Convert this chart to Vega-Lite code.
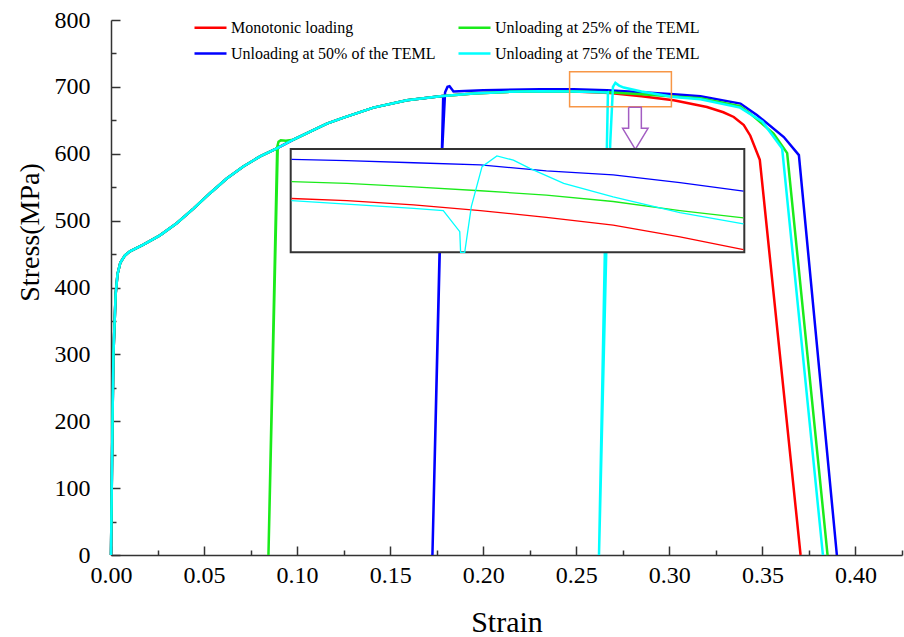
{
  "$schema": "https://vega.github.io/schema/vega-lite/v6.json",
  "width": 791,
  "height": 535,
  "autosize": {"type": "none"},
  "padding": {"left": 111, "top": 20, "right": 2, "bottom": 82},
  "background": "white",
  "config": {
    "view": {"stroke": null},
    "font": "Liberation Serif",
    "axis": {
      "labelFont": "Liberation Serif",
      "labelFontSize": 24,
      "labelColor": "black",
      "titleFont": "Liberation Serif",
      "titleFontWeight": "normal",
      "titleColor": "black",
      "domainColor": "#333333",
      "domainWidth": 1.5,
      "tickColor": "#333333",
      "tickWidth": 1.5,
      "ticks": true,
      "grid": false,
      "labelOverlap": false,
      "labelBound": false,
      "labelFlush": false
    }
  },
  "datasets": {
    "curves": [
      {"series": "Monotonic loading", "i": 0, "x": 0, "y": 0},
      {"series": "Monotonic loading", "i": 1, "x": 0.0004, "y": 100},
      {"series": "Monotonic loading", "i": 2, "x": 0.0008, "y": 200},
      {"series": "Monotonic loading", "i": 3, "x": 0.0013, "y": 300},
      {"series": "Monotonic loading", "i": 4, "x": 0.0025, "y": 390},
      {"series": "Monotonic loading", "i": 5, "x": 0.0035, "y": 420},
      {"series": "Monotonic loading", "i": 6, "x": 0.005, "y": 437},
      {"series": "Monotonic loading", "i": 7, "x": 0.0075, "y": 448},
      {"series": "Monotonic loading", "i": 8, "x": 0.0102, "y": 454},
      {"series": "Monotonic loading", "i": 9, "x": 0.0174, "y": 464},
      {"series": "Monotonic loading", "i": 10, "x": 0.0263, "y": 478},
      {"series": "Monotonic loading", "i": 11, "x": 0.0353, "y": 496},
      {"series": "Monotonic loading", "i": 12, "x": 0.0443, "y": 518},
      {"series": "Monotonic loading", "i": 13, "x": 0.0532, "y": 541},
      {"series": "Monotonic loading", "i": 14, "x": 0.0622, "y": 563},
      {"series": "Monotonic loading", "i": 15, "x": 0.0711, "y": 581},
      {"series": "Monotonic loading", "i": 16, "x": 0.0801, "y": 596},
      {"series": "Monotonic loading", "i": 17, "x": 0.0891, "y": 608},
      {"series": "Monotonic loading", "i": 18, "x": 0.098, "y": 621},
      {"series": "Monotonic loading", "i": 19, "x": 0.107, "y": 633},
      {"series": "Monotonic loading", "i": 20, "x": 0.116, "y": 645},
      {"series": "Monotonic loading", "i": 21, "x": 0.125, "y": 654},
      {"series": "Monotonic loading", "i": 22, "x": 0.141, "y": 669},
      {"series": "Monotonic loading", "i": 23, "x": 0.159, "y": 680},
      {"series": "Monotonic loading", "i": 24, "x": 0.1769, "y": 686},
      {"series": "Monotonic loading", "i": 25, "x": 0.1948, "y": 690},
      {"series": "Monotonic loading", "i": 26, "x": 0.2127, "y": 692.5},
      {"series": "Monotonic loading", "i": 27, "x": 0.2306, "y": 693.5},
      {"series": "Monotonic loading", "i": 28, "x": 0.2485, "y": 693},
      {"series": "Monotonic loading", "i": 29, "x": 0.268, "y": 691},
      {"series": "Monotonic loading", "i": 30, "x": 0.285, "y": 686},
      {"series": "Monotonic loading", "i": 31, "x": 0.3023, "y": 680},
      {"series": "Monotonic loading", "i": 32, "x": 0.3202, "y": 670},
      {"series": "Monotonic loading", "i": 33, "x": 0.329, "y": 662},
      {"series": "Monotonic loading", "i": 34, "x": 0.3346, "y": 655},
      {"series": "Monotonic loading", "i": 35, "x": 0.34, "y": 643},
      {"series": "Monotonic loading", "i": 36, "x": 0.3435, "y": 627},
      {"series": "Monotonic loading", "i": 37, "x": 0.3486, "y": 591},
      {"series": "Monotonic loading", "i": 38, "x": 0.3705, "y": 0},

      {"series": "Unloading at 25% of the TEML", "i": 0, "x": 0, "y": 0},
      {"series": "Unloading at 25% of the TEML", "i": 1, "x": 0.0004, "y": 100},
      {"series": "Unloading at 25% of the TEML", "i": 2, "x": 0.0008, "y": 200},
      {"series": "Unloading at 25% of the TEML", "i": 3, "x": 0.0013, "y": 300},
      {"series": "Unloading at 25% of the TEML", "i": 4, "x": 0.0025, "y": 390},
      {"series": "Unloading at 25% of the TEML", "i": 5, "x": 0.0035, "y": 420},
      {"series": "Unloading at 25% of the TEML", "i": 6, "x": 0.005, "y": 437},
      {"series": "Unloading at 25% of the TEML", "i": 7, "x": 0.0075, "y": 448},
      {"series": "Unloading at 25% of the TEML", "i": 8, "x": 0.0102, "y": 454},
      {"series": "Unloading at 25% of the TEML", "i": 9, "x": 0.0174, "y": 464},
      {"series": "Unloading at 25% of the TEML", "i": 10, "x": 0.0263, "y": 478},
      {"series": "Unloading at 25% of the TEML", "i": 11, "x": 0.0353, "y": 496},
      {"series": "Unloading at 25% of the TEML", "i": 12, "x": 0.0443, "y": 518},
      {"series": "Unloading at 25% of the TEML", "i": 13, "x": 0.0532, "y": 541},
      {"series": "Unloading at 25% of the TEML", "i": 14, "x": 0.0622, "y": 563},
      {"series": "Unloading at 25% of the TEML", "i": 15, "x": 0.0711, "y": 581},
      {"series": "Unloading at 25% of the TEML", "i": 16, "x": 0.0801, "y": 596},
      {"series": "Unloading at 25% of the TEML", "i": 17, "x": 0.0891, "y": 608},
      {"series": "Unloading at 25% of the TEML", "i": 18, "x": 0.0896, "y": 610},
      {"series": "Unloading at 25% of the TEML", "i": 19, "x": 0.0846, "y": 0},
      {"series": "Unloading at 25% of the TEML", "i": 20, "x": 0.0893, "y": 610},
      {"series": "Unloading at 25% of the TEML", "i": 21, "x": 0.09, "y": 618},
      {"series": "Unloading at 25% of the TEML", "i": 22, "x": 0.0912, "y": 620},
      {"series": "Unloading at 25% of the TEML", "i": 23, "x": 0.094, "y": 619.5},
      {"series": "Unloading at 25% of the TEML", "i": 24, "x": 0.098, "y": 621},
      {"series": "Unloading at 25% of the TEML", "i": 25, "x": 0.107, "y": 633},
      {"series": "Unloading at 25% of the TEML", "i": 26, "x": 0.116, "y": 645},
      {"series": "Unloading at 25% of the TEML", "i": 27, "x": 0.125, "y": 654},
      {"series": "Unloading at 25% of the TEML", "i": 28, "x": 0.141, "y": 669},
      {"series": "Unloading at 25% of the TEML", "i": 29, "x": 0.159, "y": 680},
      {"series": "Unloading at 25% of the TEML", "i": 30, "x": 0.1769, "y": 686},
      {"series": "Unloading at 25% of the TEML", "i": 31, "x": 0.1948, "y": 690},
      {"series": "Unloading at 25% of the TEML", "i": 32, "x": 0.2127, "y": 692.5},
      {"series": "Unloading at 25% of the TEML", "i": 33, "x": 0.2306, "y": 693.5},
      {"series": "Unloading at 25% of the TEML", "i": 34, "x": 0.2485, "y": 693},
      {"series": "Unloading at 25% of the TEML", "i": 35, "x": 0.2665, "y": 692},
      {"series": "Unloading at 25% of the TEML", "i": 36, "x": 0.285, "y": 689},
      {"series": "Unloading at 25% of the TEML", "i": 37, "x": 0.3023, "y": 685.5},
      {"series": "Unloading at 25% of the TEML", "i": 38, "x": 0.3167, "y": 683},
      {"series": "Unloading at 25% of the TEML", "i": 39, "x": 0.338, "y": 671},
      {"series": "Unloading at 25% of the TEML", "i": 40, "x": 0.3435, "y": 660},
      {"series": "Unloading at 25% of the TEML", "i": 41, "x": 0.356, "y": 630},
      {"series": "Unloading at 25% of the TEML", "i": 42, "x": 0.3633, "y": 601},
      {"series": "Unloading at 25% of the TEML", "i": 43, "x": 0.385, "y": 0},

      {"series": "Unloading at 50% of the TEML", "i": 0, "x": 0, "y": 0},
      {"series": "Unloading at 50% of the TEML", "i": 1, "x": 0.0004, "y": 100},
      {"series": "Unloading at 50% of the TEML", "i": 2, "x": 0.0008, "y": 200},
      {"series": "Unloading at 50% of the TEML", "i": 3, "x": 0.0013, "y": 300},
      {"series": "Unloading at 50% of the TEML", "i": 4, "x": 0.0025, "y": 390},
      {"series": "Unloading at 50% of the TEML", "i": 5, "x": 0.0035, "y": 420},
      {"series": "Unloading at 50% of the TEML", "i": 6, "x": 0.005, "y": 437},
      {"series": "Unloading at 50% of the TEML", "i": 7, "x": 0.0075, "y": 448},
      {"series": "Unloading at 50% of the TEML", "i": 8, "x": 0.0102, "y": 454},
      {"series": "Unloading at 50% of the TEML", "i": 9, "x": 0.0174, "y": 464},
      {"series": "Unloading at 50% of the TEML", "i": 10, "x": 0.0263, "y": 478},
      {"series": "Unloading at 50% of the TEML", "i": 11, "x": 0.0353, "y": 496},
      {"series": "Unloading at 50% of the TEML", "i": 12, "x": 0.0443, "y": 518},
      {"series": "Unloading at 50% of the TEML", "i": 13, "x": 0.0532, "y": 541},
      {"series": "Unloading at 50% of the TEML", "i": 14, "x": 0.0622, "y": 563},
      {"series": "Unloading at 50% of the TEML", "i": 15, "x": 0.0711, "y": 581},
      {"series": "Unloading at 50% of the TEML", "i": 16, "x": 0.0801, "y": 596},
      {"series": "Unloading at 50% of the TEML", "i": 17, "x": 0.0891, "y": 608},
      {"series": "Unloading at 50% of the TEML", "i": 18, "x": 0.098, "y": 621},
      {"series": "Unloading at 50% of the TEML", "i": 19, "x": 0.107, "y": 633},
      {"series": "Unloading at 50% of the TEML", "i": 20, "x": 0.116, "y": 645},
      {"series": "Unloading at 50% of the TEML", "i": 21, "x": 0.125, "y": 654},
      {"series": "Unloading at 50% of the TEML", "i": 22, "x": 0.141, "y": 669},
      {"series": "Unloading at 50% of the TEML", "i": 23, "x": 0.159, "y": 680},
      {"series": "Unloading at 50% of the TEML", "i": 24, "x": 0.1769, "y": 686},
      {"series": "Unloading at 50% of the TEML", "i": 25, "x": 0.1785, "y": 686.5},
      {"series": "Unloading at 50% of the TEML", "i": 26, "x": 0.1727, "y": 0},
      {"series": "Unloading at 50% of the TEML", "i": 27, "x": 0.178, "y": 608},
      {"series": "Unloading at 50% of the TEML", "i": 28, "x": 0.1795, "y": 692},
      {"series": "Unloading at 50% of the TEML", "i": 29, "x": 0.1808, "y": 700},
      {"series": "Unloading at 50% of the TEML", "i": 30, "x": 0.1819, "y": 701},
      {"series": "Unloading at 50% of the TEML", "i": 31, "x": 0.183, "y": 697},
      {"series": "Unloading at 50% of the TEML", "i": 32, "x": 0.184, "y": 693},
      {"series": "Unloading at 50% of the TEML", "i": 33, "x": 0.19, "y": 694},
      {"series": "Unloading at 50% of the TEML", "i": 34, "x": 0.2, "y": 695},
      {"series": "Unloading at 50% of the TEML", "i": 35, "x": 0.2306, "y": 696.3},
      {"series": "Unloading at 50% of the TEML", "i": 36, "x": 0.2485, "y": 696.5},
      {"series": "Unloading at 50% of the TEML", "i": 37, "x": 0.2665, "y": 695},
      {"series": "Unloading at 50% of the TEML", "i": 38, "x": 0.285, "y": 692},
      {"series": "Unloading at 50% of the TEML", "i": 39, "x": 0.3023, "y": 689},
      {"series": "Unloading at 50% of the TEML", "i": 40, "x": 0.3167, "y": 686},
      {"series": "Unloading at 50% of the TEML", "i": 41, "x": 0.3382, "y": 675},
      {"series": "Unloading at 50% of the TEML", "i": 42, "x": 0.347, "y": 658},
      {"series": "Unloading at 50% of the TEML", "i": 43, "x": 0.3615, "y": 625},
      {"series": "Unloading at 50% of the TEML", "i": 44, "x": 0.3696, "y": 598},
      {"series": "Unloading at 50% of the TEML", "i": 45, "x": 0.39, "y": 0},

      {"series": "Unloading at 75% of the TEML", "i": 0, "x": 0, "y": 0},
      {"series": "Unloading at 75% of the TEML", "i": 1, "x": 0.0004, "y": 100},
      {"series": "Unloading at 75% of the TEML", "i": 2, "x": 0.0008, "y": 200},
      {"series": "Unloading at 75% of the TEML", "i": 3, "x": 0.0013, "y": 300},
      {"series": "Unloading at 75% of the TEML", "i": 4, "x": 0.0025, "y": 390},
      {"series": "Unloading at 75% of the TEML", "i": 5, "x": 0.0035, "y": 420},
      {"series": "Unloading at 75% of the TEML", "i": 6, "x": 0.005, "y": 437},
      {"series": "Unloading at 75% of the TEML", "i": 7, "x": 0.0075, "y": 448},
      {"series": "Unloading at 75% of the TEML", "i": 8, "x": 0.0102, "y": 454},
      {"series": "Unloading at 75% of the TEML", "i": 9, "x": 0.0174, "y": 464},
      {"series": "Unloading at 75% of the TEML", "i": 10, "x": 0.0263, "y": 478},
      {"series": "Unloading at 75% of the TEML", "i": 11, "x": 0.0353, "y": 496},
      {"series": "Unloading at 75% of the TEML", "i": 12, "x": 0.0443, "y": 518},
      {"series": "Unloading at 75% of the TEML", "i": 13, "x": 0.0532, "y": 541},
      {"series": "Unloading at 75% of the TEML", "i": 14, "x": 0.0622, "y": 563},
      {"series": "Unloading at 75% of the TEML", "i": 15, "x": 0.0711, "y": 581},
      {"series": "Unloading at 75% of the TEML", "i": 16, "x": 0.0801, "y": 596},
      {"series": "Unloading at 75% of the TEML", "i": 17, "x": 0.0891, "y": 608},
      {"series": "Unloading at 75% of the TEML", "i": 18, "x": 0.098, "y": 621},
      {"series": "Unloading at 75% of the TEML", "i": 19, "x": 0.107, "y": 633},
      {"series": "Unloading at 75% of the TEML", "i": 20, "x": 0.116, "y": 645},
      {"series": "Unloading at 75% of the TEML", "i": 21, "x": 0.125, "y": 654},
      {"series": "Unloading at 75% of the TEML", "i": 22, "x": 0.141, "y": 669},
      {"series": "Unloading at 75% of the TEML", "i": 23, "x": 0.159, "y": 680},
      {"series": "Unloading at 75% of the TEML", "i": 24, "x": 0.1769, "y": 686},
      {"series": "Unloading at 75% of the TEML", "i": 25, "x": 0.1948, "y": 690},
      {"series": "Unloading at 75% of the TEML", "i": 26, "x": 0.2127, "y": 692.5},
      {"series": "Unloading at 75% of the TEML", "i": 27, "x": 0.2306, "y": 693.5},
      {"series": "Unloading at 75% of the TEML", "i": 28, "x": 0.2485, "y": 693},
      {"series": "Unloading at 75% of the TEML", "i": 29, "x": 0.2665, "y": 691.5},
      {"series": "Unloading at 75% of the TEML", "i": 30, "x": 0.267, "y": 692},
      {"series": "Unloading at 75% of the TEML", "i": 31, "x": 0.2622, "y": 0},
      {"series": "Unloading at 75% of the TEML", "i": 32, "x": 0.2661, "y": 453},
      {"series": "Unloading at 75% of the TEML", "i": 33, "x": 0.2683, "y": 620},
      {"series": "Unloading at 75% of the TEML", "i": 34, "x": 0.2697, "y": 700},
      {"series": "Unloading at 75% of the TEML", "i": 35, "x": 0.271, "y": 706},
      {"series": "Unloading at 75% of the TEML", "i": 36, "x": 0.273, "y": 702},
      {"series": "Unloading at 75% of the TEML", "i": 37, "x": 0.2755, "y": 699},
      {"series": "Unloading at 75% of the TEML", "i": 38, "x": 0.285, "y": 693},
      {"series": "Unloading at 75% of the TEML", "i": 39, "x": 0.3023, "y": 685},
      {"series": "Unloading at 75% of the TEML", "i": 40, "x": 0.3167, "y": 681.6},
      {"series": "Unloading at 75% of the TEML", "i": 41, "x": 0.338, "y": 669},
      {"series": "Unloading at 75% of the TEML", "i": 42, "x": 0.35, "y": 648},
      {"series": "Unloading at 75% of the TEML", "i": 43, "x": 0.3606, "y": 608},
      {"series": "Unloading at 75% of the TEML", "i": 44, "x": 0.3825, "y": 0}
    ],
    "inset": [
      {"series": "Monotonic loading", "i": 0, "x": 0.2461, "y": 694.25},
      {"series": "Monotonic loading", "i": 1, "x": 0.2528, "y": 694.0},
      {"series": "Monotonic loading", "i": 2, "x": 0.2609, "y": 693.5},
      {"series": "Monotonic loading", "i": 3, "x": 0.269, "y": 692.85},
      {"series": "Monotonic loading", "i": 4, "x": 0.277, "y": 692.05},
      {"series": "Monotonic loading", "i": 5, "x": 0.2851, "y": 691.15},
      {"series": "Monotonic loading", "i": 6, "x": 0.2932, "y": 689.8},
      {"series": "Monotonic loading", "i": 7, "x": 0.3009, "y": 688.3},
      {"series": "Unloading at 25% of the TEML", "i": 0, "x": 0.2461, "y": 696.2},
      {"series": "Unloading at 25% of the TEML", "i": 1, "x": 0.2528, "y": 696.0},
      {"series": "Unloading at 25% of the TEML", "i": 2, "x": 0.2609, "y": 695.6},
      {"series": "Unloading at 25% of the TEML", "i": 3, "x": 0.269, "y": 695.15},
      {"series": "Unloading at 25% of the TEML", "i": 4, "x": 0.277, "y": 694.65},
      {"series": "Unloading at 25% of the TEML", "i": 5, "x": 0.2851, "y": 693.9},
      {"series": "Unloading at 25% of the TEML", "i": 6, "x": 0.2932, "y": 692.85},
      {"series": "Unloading at 25% of the TEML", "i": 7, "x": 0.3009, "y": 692.0},
      {"series": "Unloading at 50% of the TEML", "i": 0, "x": 0.2461, "y": 698.8},
      {"series": "Unloading at 50% of the TEML", "i": 1, "x": 0.2528, "y": 698.65},
      {"series": "Unloading at 50% of the TEML", "i": 2, "x": 0.2609, "y": 698.4},
      {"series": "Unloading at 50% of the TEML", "i": 3, "x": 0.269, "y": 698.15},
      {"series": "Unloading at 50% of the TEML", "i": 4, "x": 0.277, "y": 697.45},
      {"series": "Unloading at 50% of the TEML", "i": 5, "x": 0.2851, "y": 697.0},
      {"series": "Unloading at 50% of the TEML", "i": 6, "x": 0.2932, "y": 696.1},
      {"series": "Unloading at 50% of the TEML", "i": 7, "x": 0.3009, "y": 695.1},
      {"series": "Unloading at 75% of the TEML", "i": 0, "x": 0.2461, "y": 694.0},
      {"series": "Unloading at 75% of the TEML", "i": 1, "x": 0.2528, "y": 693.6},
      {"series": "Unloading at 75% of the TEML", "i": 2, "x": 0.2609, "y": 693.1},
      {"series": "Unloading at 75% of the TEML", "i": 3, "x": 0.2645, "y": 692.85},
      {"series": "Unloading at 75% of the TEML", "i": 4, "x": 0.2665, "y": 690.4},
      {"series": "Unloading at 75% of the TEML", "i": 5, "x": 0.2666, "y": 688.0},
      {"series": "Unloading at 75% of the TEML", "i": 6, "x": 0.2671, "y": 688.0},
      {"series": "Unloading at 75% of the TEML", "i": 7, "x": 0.2679, "y": 693.3},
      {"series": "Unloading at 75% of the TEML", "i": 8, "x": 0.2692, "y": 697.95},
      {"series": "Unloading at 75% of the TEML", "i": 9, "x": 0.271, "y": 699.2},
      {"series": "Unloading at 75% of the TEML", "i": 10, "x": 0.273, "y": 698.7},
      {"series": "Unloading at 75% of the TEML", "i": 11, "x": 0.275, "y": 697.75},
      {"series": "Unloading at 75% of the TEML", "i": 12, "x": 0.2791, "y": 696.0},
      {"series": "Unloading at 75% of the TEML", "i": 13, "x": 0.2851, "y": 694.45},
      {"series": "Unloading at 75% of the TEML", "i": 14, "x": 0.2892, "y": 693.5},
      {"series": "Unloading at 75% of the TEML", "i": 15, "x": 0.2932, "y": 692.6},
      {"series": "Unloading at 75% of the TEML", "i": 16, "x": 0.3009, "y": 691.3}
    ],
    "box": [{"x": 0.2464, "x2": 0.3011, "y": 670.4, "y2": 722.7}],
    "frame": [{"x": 0.246, "x2": 0.301, "y": 688, "y2": 700}],
    "arrow": [
      {"i": 0, "x": 0.27812, "y": 669.5},
      {"i": 1, "x": 0.28495, "y": 669.5},
      {"i": 2, "x": 0.28495, "y": 638.1},
      {"i": 3, "x": 0.28855, "y": 638.1},
      {"i": 4, "x": 0.28172, "y": 606.7},
      {"i": 5, "x": 0.27489, "y": 638.1},
      {"i": 6, "x": 0.27812, "y": 638.1},
      {"i": 7, "x": 0.27812, "y": 669.5}
    ]
  },
  "layer": [
    {
      "encoding": {
        "x": {
          "field": "x",
          "type": "quantitative",
          "scale": {"domain": [0, 0.425], "nice": false, "zero": false},
          "axis": {
            "title": "Strain",
            "titleFontSize": 30,
            "titleY": 67,
            "titleBaseline": "middle",
            "values": [0, 0.025, 0.05, 0.075, 0.1, 0.125, 0.15, 0.175, 0.2, 0.225, 0.25, 0.275, 0.3, 0.325, 0.35, 0.375, 0.4, 0.425],
            "labelExpr": "abs(datum.value*20 - round(datum.value*20)) < 0.000001 ? format(datum.value, '.2f') : ''",
            "tickSize": {"condition": {"test": "abs(datum.value*20 - round(datum.value*20)) < 0.000001", "value": -9}, "value": -5},
            "labelPadding": 17
          }
        },
        "y": {
          "field": "y",
          "type": "quantitative",
          "scale": {"domain": [0, 800], "nice": false, "zero": false},
          "axis": {
            "title": "Stress(MPa)",
            "titleFontSize": 28,
            "titleX": -81,
            "titleY": 212,
            "titleAngle": -90,
            "titleBaseline": "middle",
            "titleAlign": "center",
            "values": [0, 50, 100, 150, 200, 250, 300, 350, 400, 450, 500, 550, 600, 650, 700, 750, 800],
            "labelExpr": "datum.value % 100 === 0 ? datum.label : ''",
            "tickSize": {"condition": {"test": "datum.value % 100 === 0", "value": -9}, "value": -5},
            "labelPadding": 30
          }
        }
      },
      "layer": [
        {
          "data": {"name": "curves"},
          "transform": [{"filter": "datum.series === 'Monotonic loading'"}],
          "mark": {"type": "line", "strokeWidth": 2.5},
          "encoding": {
            "color": {"field": "series", "type": "nominal", "scale": {"domain": ["Monotonic loading", "Unloading at 25% of the TEML", "Unloading at 50% of the TEML", "Unloading at 75% of the TEML"], "range": ["#ff0000", "#1aeb1a", "#0000ff", "#00ffff"]},
              "legend": {"orient": "none", "legendX": 82, "legendY": -10, "columns": 2, "direction": "horizontal", "title": null, "symbolType": "stroke", "symbolSize": 1024, "symbolStrokeWidth": 2.5, "labelFont": "Liberation Serif", "labelFontSize": 16, "labelColor": "black", "labelOffset": 3, "columnPadding": 17, "rowPadding": -7, "labelLimit": 0}},
            "order": {"field": "i", "type": "quantitative"}
          }
        },
        {
          "data": {"name": "curves"},
          "transform": [{"filter": "datum.series === 'Unloading at 50% of the TEML'"}],
          "mark": {"type": "line", "strokeWidth": 2.5},
          "encoding": {
            "color": {"field": "series", "type": "nominal"},
            "order": {"field": "i", "type": "quantitative"}
          }
        },
        {
          "data": {"name": "curves"},
          "transform": [{"filter": "datum.series === 'Unloading at 25% of the TEML'"}],
          "mark": {"type": "line", "strokeWidth": 2.5},
          "encoding": {
            "color": {"field": "series", "type": "nominal"},
            "order": {"field": "i", "type": "quantitative"}
          }
        },
        {
          "data": {"name": "curves"},
          "transform": [{"filter": "datum.series === 'Unloading at 75% of the TEML'"}],
          "mark": {"type": "line", "strokeWidth": 2.5},
          "encoding": {
            "color": {"field": "series", "type": "nominal"},
            "order": {"field": "i", "type": "quantitative"}
          }
        },
        {
          "data": {"name": "box"},
          "mark": {"type": "rect", "fill": "transparent", "stroke": "#f79646", "strokeWidth": 1.5},
          "encoding": {"x2": {"field": "x2"}, "y2": {"field": "y2"}}
        },
        {
          "data": {"name": "arrow"},
          "mark": {"type": "line", "color": "#a35dc2", "strokeWidth": 1.5},
          "encoding": {"order": {"field": "i", "type": "quantitative"}}
        }
      ]
    },
    {
      "encoding": {
        "x": {"field": "x", "type": "quantitative", "scale": {"domain": [0.224211, 0.320121], "nice": false, "zero": false}, "axis": null},
        "y": {"field": "y", "type": "quantitative", "scale": {"domain": [652.836, 714.985], "nice": false, "zero": false}, "axis": null}
      },
      "layer": [
        {
          "data": {"name": "frame"},
          "mark": {"type": "rect", "fill": "white", "stroke": "#333333", "strokeWidth": 2},
          "encoding": {"x2": {"field": "x2"}, "y2": {"field": "y2"}}
        },
        {
          "data": {"name": "inset"},
          "mark": {"type": "line", "strokeWidth": 1.3},
          "encoding": {
            "color": {"field": "series", "type": "nominal"},
            "order": {"field": "i", "type": "quantitative"}
          }
        }
      ]
    }
  ],
  "resolve": {"scale": {"x": "independent", "y": "independent"}}
}
